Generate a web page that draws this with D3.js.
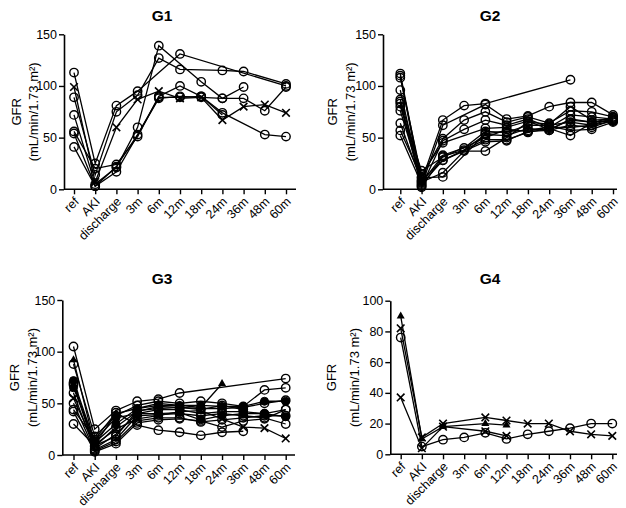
<!DOCTYPE html>
<html>
<head>
<meta charset="utf-8">
<script src="https://cdn.jsdelivr.net/npm/d3@7"></script>
<style>
  html, body { margin: 0; padding: 0; background: #fff; }
  svg { display: block; font-family: "Liberation Sans", Arial, sans-serif; }
</style>
</head>
<body>
<svg id="chart" width="626" height="508"></svg>
<script>
// ---------- data ----------
const categories = ["ref", "AKI", "discharge", "3m", "6m", "12m", "18m", "24m", "36m", "48m", "60m"];

const yTicksG1 = [0, 50, 100, 150];
const yTicksG2 = [0, 50, 100, 150];
const yTicksG3 = [0, 50, 100, 150];
const yTicksG4 = [0, 20, 40, 60, 80, 100];

const panelTitles = ["G1", "G2", "G3", "G4"];
const yLabelLine1 = "GFR";
const yLabelLine2 = "(mL/min/1.73 m²)";

// G1 (one row per patient, values per category; null = not measured)
const g1Values = [
  [89, 14, 75, 91, 127, 116, null, 115, 114, null, 102],
  [72, 5, 21, 60, 139, null, 104, 88, 99, null, null],
  [113, 25, 81, 95, null, 131, null, null, null, null, 100],
  [56, 20, 24, 51, 90, 100, 90, 74, null, 53, 51],
  [54, 3, 17, null, 88, 90, 89, 88, 88, 76, 99],
  [41, 3, 22, 53, 89, 89, 90, 72, null, null, null],
  [99, 7, 60, 87, 95, 88, 89, 67, 80, 82, 74]
];
const g1Markers = ["o", "o", "o", "o", "o", "o", "x"];

const g2Values = [
  [112, 8, 67, 81, 83, null, null, null, 106, null, null],
  [110, 4, 62, null, 82, 68, 71, 80, 84, 84, 72],
  [108, 12, 49, 67, 75, 65, 70, 64, 76, 75, 70],
  [96, 3, 47, 58, 67, 62, 68, 60, 72, 70, 68],
  [87, 15, 45, null, 59, 60, 66, 58, 67, 65, 66],
  [85, 6, 33, 40, 56, 55, 62, 62, 65, 62, 69],
  [83, 2, 32, 38, 53, 52, 59, 57, 62, 60, 67],
  [80, 18, 31, null, 50, 58, 56, 61, 57, 58, 65],
  [76, 9, 28, null, 48, 48, 55, 59, 52, 64, 70],
  [64, 7, 16, 37, 37, 50, 65, 63, 80, 67, 68],
  [57, 11, 12, null, 54, 56, 57, 60, 60, 62, 66],
  [52, 5, 28, null, 46, 47, 56, 57, 68, 65, 67]
];
const g2Markers = ["o", "o", "o", "o", "o", "o", "o", "o", "o", "o", "o", "o"];

const g3Values = [
  [105, 25, 43, 52, 54, 60, null, null, null, null, 74],
  [92, 10, 40, 45, 50, 48, 46, 69, null, null, null],
  [88, 18, 38, 48, 52, 50, 52, 50, 47, 63, 65],
  [72, 12, 30, 45, 48, 48, 48, 47, 47, 52, 52],
  [70, 8, 27, 42, 47, 46, 45, 45, 46, 50, 53],
  [68, 6, 20, 40, 44, 44, 40, 42, 42, 40, 44],
  [65, 14, 36, 40, 40, 41, 34, 38, 40, 40, 37],
  [60, 5, 15, 38, 39, 40, 38, 40, 38, 36, 30],
  [55, 10, 25, 35, 38, 42, 43, 35, 27, 26, 16],
  [50, 4, 13, 33, 36, 36, 32, 34, 36, 38, 38],
  [44, 15, 41, 29, 24, 22, 19, 22, 23, null, null],
  [42, 3, 11, 31, 34, 35, 33, 27, 33, 35, 44],
  [30, 9, 18, 43, 45, 46, 44, 48, 44, null, null]
];
const g3Markers = ["o", "t", "o", "f", "o", "o", "f", "o", "x", "o", "o", "o", "o"];

const g4Values = [
  [82, 11, 20, null, 24, 22, 20, 20, 15, 13, 12],
  [90, 10, 18, null, 20, 19, null, null, null, null, null],
  [76, 5, 9.5, 11, 14, 10, 13, 15, 17, 20, 20],
  [37, 4, 18, null, 15, 12, null, null, null, null, null]
];
const g4Markers = ["x", "t", "o", "x"];

// ---------- layout ----------
const layout = [
  { values: g1Values, markers: g1Markers, ticks: yTicksG1, yMax: 150, axisX: 64, x0: 74, x1: 286, xEnd: 296, yTop: 34.3, yBot: 189.3, titleX: 162, titleY: 21, lab1X: 21, lab2X: 38 },
  { values: g2Values, markers: g2Markers, ticks: yTicksG2, yMax: 150, axisX: 383, x0: 400.3, x1: 613, xEnd: 617, yTop: 34.3, yBot: 189.3, titleX: 490, titleY: 21, lab1X: 337, lab2X: 355 },
  { values: g3Values, markers: g3Markers, ticks: yTicksG3, yMax: 150, axisX: 62.3, x0: 73.5, x1: 285.7, xEnd: 295, yTop: 300, yBot: 455, titleX: 162, titleY: 284, lab1X: 19, lab2X: 37 },
  { values: g4Values, markers: g4Markers, ticks: yTicksG4, yMax: 100, axisX: 390.3, x0: 400.7, x1: 612.3, xEnd: 617, yTop: 300.7, yBot: 454.3, titleX: 490, titleY: 284, lab1X: 336, lab2X: 359 }
];

const svg = d3.select("#chart");

layout.forEach((p, i) => {
  const g = svg.append("g");
  const x = d3.scalePoint().domain(categories).range([p.x0, p.x1]);
  const y = d3.scaleLinear().domain([0, p.yMax]).range([p.yBot, p.yTop]);

  // title
  g.append("text").attr("x", p.titleX).attr("y", p.titleY)
    .attr("text-anchor", "middle").attr("font-weight", "bold").attr("font-size", 15.5)
    .text(panelTitles[i]);

  // y label
  const cy = (p.yTop + p.yBot) / 2;
  g.append("text").attr("transform", `translate(${p.lab1X},${cy}) rotate(-90)`)
    .attr("text-anchor", "middle").attr("font-size", 13).text(yLabelLine1);
  g.append("text").attr("transform", `translate(${p.lab2X},${cy}) rotate(-90)`)
    .attr("text-anchor", "middle").attr("font-size", 13).text(yLabelLine2);

  // y axis
  const ya = g.append("g").attr("transform", `translate(${p.axisX},0)`)
    .call(d3.axisLeft(y).tickValues(p.ticks).tickSize(5).tickSizeOuter(0).tickPadding(2));
  ya.select(".domain").attr("stroke-width", 1.6);
  ya.selectAll(".tick line").attr("stroke-width", 1.4);
  ya.selectAll("text").attr("font-size", 12.5).attr("font-family", null);

  // x axis
  const xa = g.append("g").attr("transform", `translate(0,${p.yBot})`)
    .call(d3.axisBottom(x).tickSize(5).tickSizeOuter(0));
  xa.select(".domain").remove();
  xa.append("line").attr("x1", p.axisX).attr("x2", p.xEnd).attr("y1", 0).attr("y2", 0)
    .attr("stroke", "#000").attr("stroke-width", 1.6);
  xa.selectAll(".tick line").attr("stroke-width", 1.4);
  xa.selectAll("text")
    .attr("font-size", 12.5).attr("font-family", null)
    .attr("x", 0).attr("y", 0).attr("dy", "0.35em")
    .attr("transform", "translate(2,10) rotate(-45)")
    .style("text-anchor", "end");

  // series
  const line = d3.line().x(d => x(d.c)).y(d => y(d.v));
  p.values.forEach((row, si) => {
    const pts = row.map((v, k) => ({ c: categories[k], v })).filter(d => d.v != null);
    g.append("path").datum(pts).attr("d", line)
      .attr("fill", "none").attr("stroke", "#000").attr("stroke-width", 1.3);
    const m = p.markers[si];
    pts.forEach(d => {
      const cx = x(d.c), cyv = y(d.v);
      if (m === "o") {
        g.append("circle").attr("cx", cx).attr("cy", cyv).attr("r", 4.2)
          .attr("fill", "none").attr("stroke", "#000").attr("stroke-width", 1.4);
      } else if (m === "f") {
        g.append("circle").attr("cx", cx).attr("cy", cyv).attr("r", 4)
          .attr("fill", "#000").attr("stroke", "#000").attr("stroke-width", 1);
      } else if (m === "t") {
        g.append("path").attr("d", d3.symbol(d3.symbolTriangle).size(28)())
          .attr("transform", `translate(${cx},${cyv})`).attr("fill", "#000");
      } else if (m === "x") {
        g.append("path").attr("d", "M-3.8,-3.8L3.8,3.8M-3.8,3.8L3.8,-3.8")
          .attr("transform", `translate(${cx},${cyv})`)
          .attr("stroke", "#000").attr("stroke-width", 1.6).attr("fill", "none");
      }
    });
  });
});
</script>
</body>
</html>
